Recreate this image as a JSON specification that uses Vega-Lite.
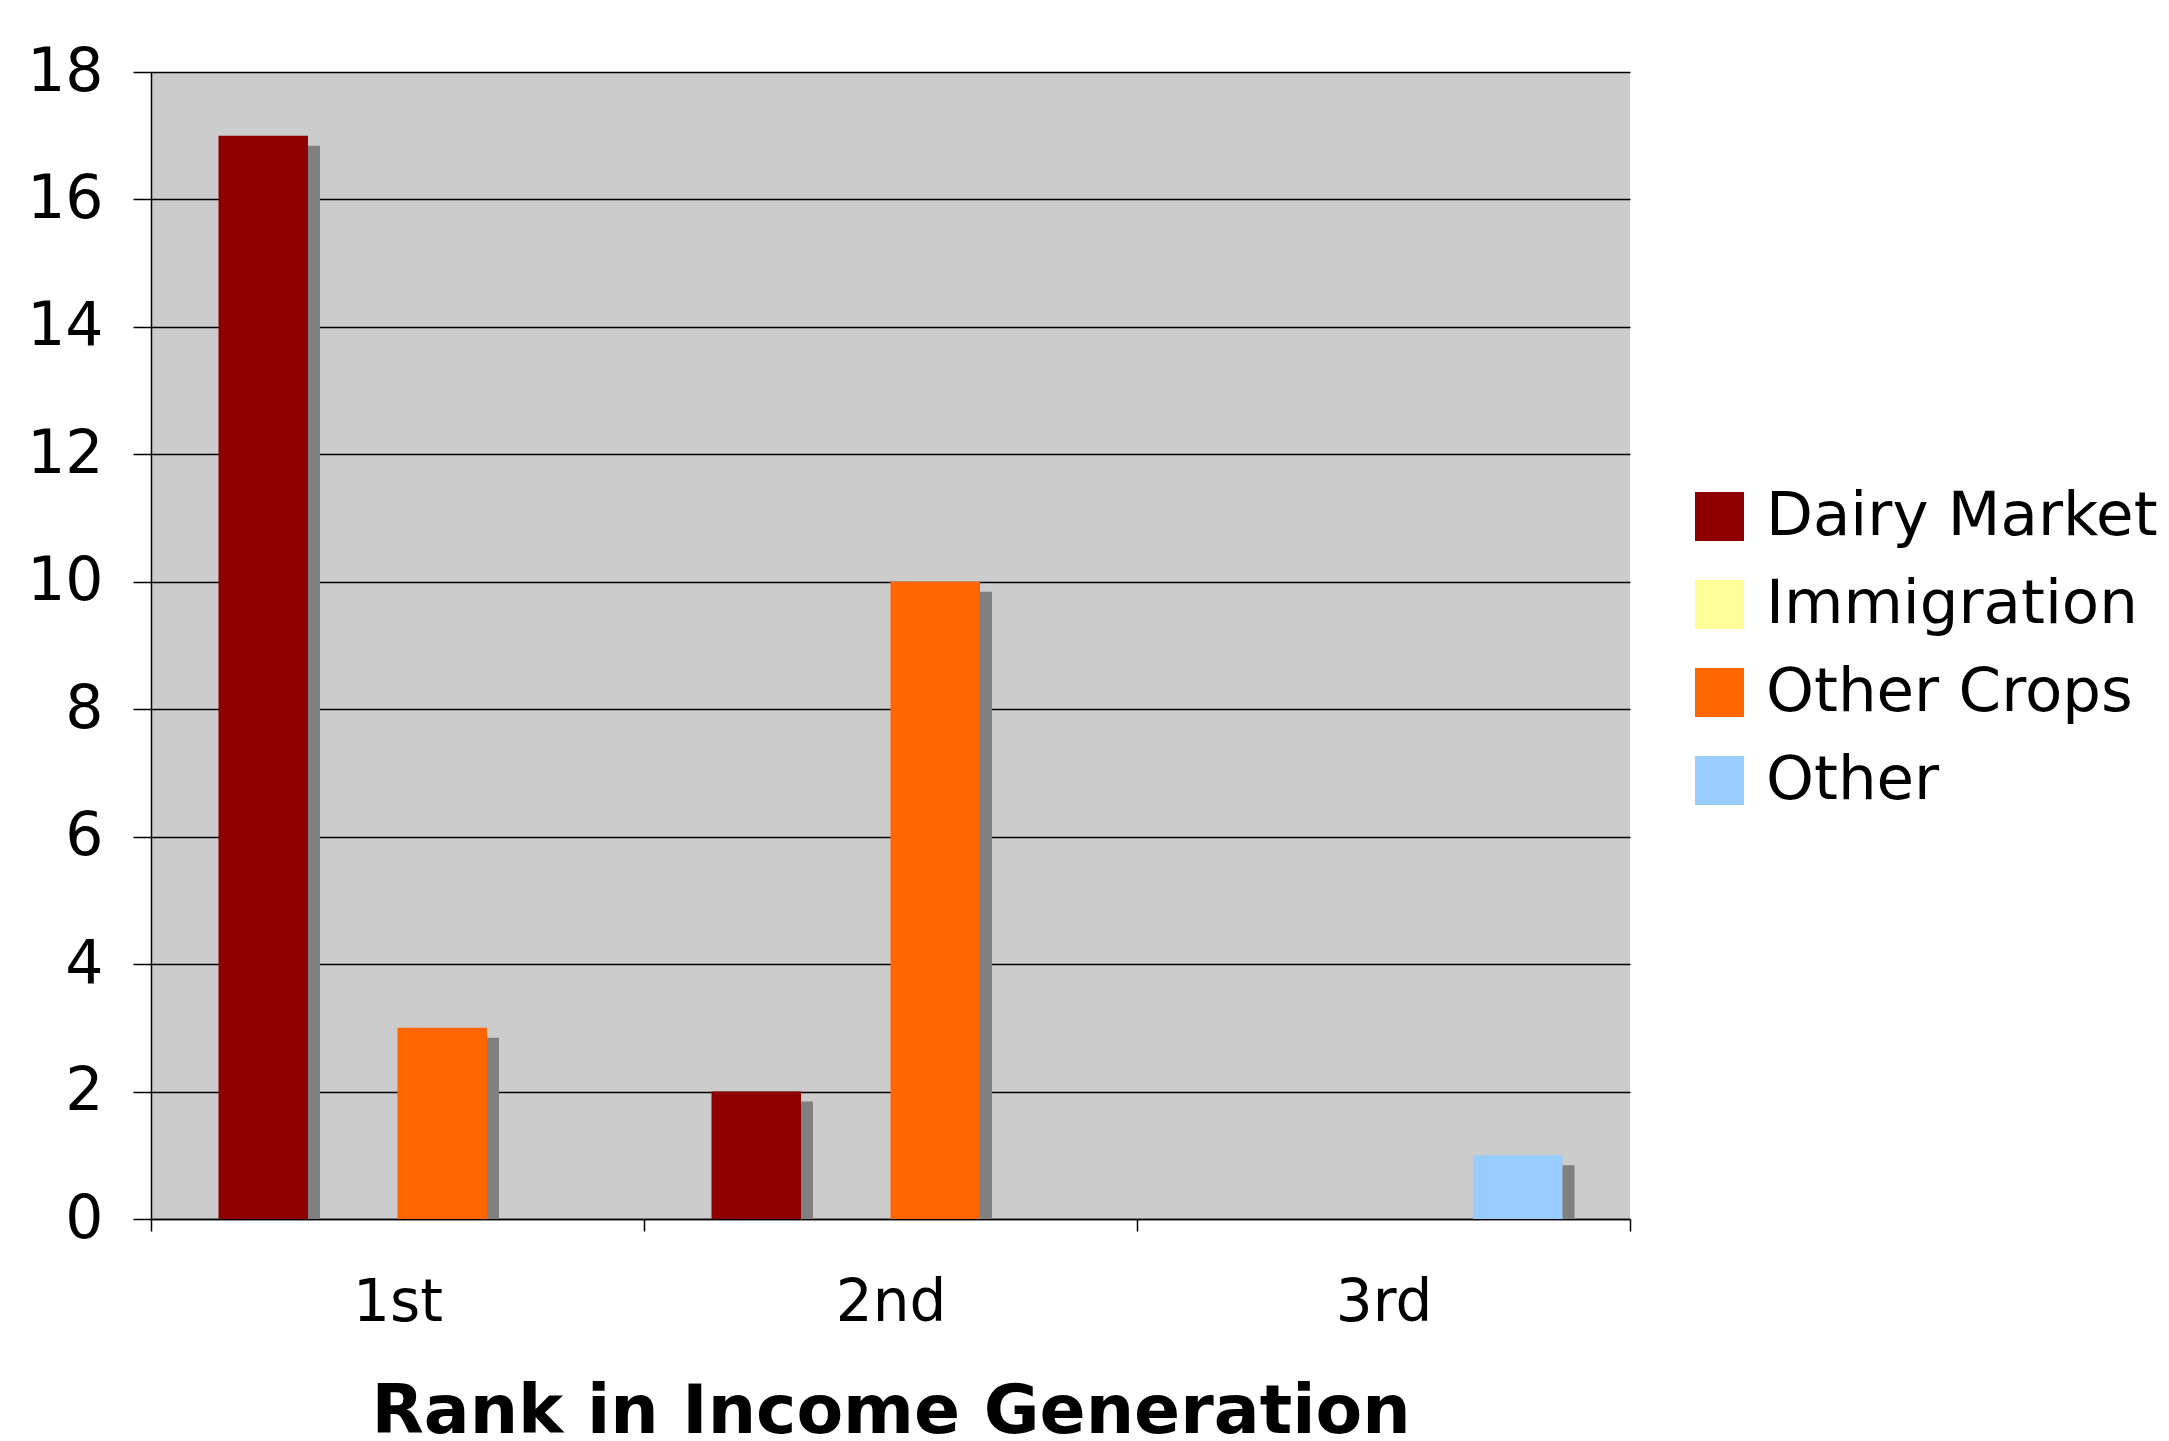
{
  "$schema": "https://vega.github.io/schema/vega-lite/v6.json",
  "autosize": {"type": "none"},
  "padding": {"left": 151, "top": 72, "right": 539, "bottom": 222},
  "width": 1479,
  "height": 1147,
  "background": "#FFFFFF",
  "config": {
    "font": "DejaVu Sans",
    "view": {"fill": "#CCCCCC", "stroke": null}
  },
  "data": {
    "values": [
      {"rank": "1st", "source": "Dairy Market", "count": 17},
      {"rank": "1st", "source": "Immigration", "count": 0},
      {"rank": "1st", "source": "Other Crops", "count": 3},
      {"rank": "1st", "source": "Other", "count": 0},
      {"rank": "2nd", "source": "Dairy Market", "count": 2},
      {"rank": "2nd", "source": "Immigration", "count": 0},
      {"rank": "2nd", "source": "Other Crops", "count": 10},
      {"rank": "2nd", "source": "Other", "count": 0},
      {"rank": "3rd", "source": "Dairy Market", "count": 0},
      {"rank": "3rd", "source": "Immigration", "count": 0},
      {"rank": "3rd", "source": "Other Crops", "count": 0},
      {"rank": "3rd", "source": "Other", "count": 1}
    ]
  },
  "encoding": {
    "x": {
      "field": "rank",
      "type": "nominal",
      "sort": ["1st", "2nd", "3rd"],
      "scale": {"paddingInner": 0, "paddingOuter": 0},
      "axis": {
        "title": "Rank in Income Generation",
        "titleFontSize": 68,
        "titleFontWeight": "bold",
        "titleColor": "#000000",
        "titleBaseline": "alphabetic",
        "titleY": 213,
        "labelAngle": 0,
        "labelFontSize": 58,
        "labelColor": "#000000",
        "labelBaseline": "alphabetic",
        "labelPadding": 89,
        "tickBand": "extent",
        "tickSize": 12,
        "tickColor": "#000000",
        "tickWidth": 1.5,
        "domainColor": "#000000",
        "domainWidth": 1.5,
        "grid": false
      }
    },
    "y": {
      "field": "count",
      "type": "quantitative",
      "scale": {"domain": [0, 18], "nice": false},
      "axis": {
        "title": null,
        "values": [0, 2, 4, 6, 8, 10, 12, 14, 16, 18],
        "labelFontSize": 60,
        "labelColor": "#000000",
        "labelPadding": 30,
        "tickSize": 18,
        "tickColor": "#000000",
        "tickWidth": 1.5,
        "domainColor": "#000000",
        "domainWidth": 1.5,
        "grid": true,
        "gridColor": "#000000",
        "gridWidth": 1.3,
        "gridOpacity": 1
      }
    }
  },
  "layer": [
    {
      "transform": [{"filter": "datum.count > 0"}],
      "mark": {"type": "bar", "color": "#808080", "yOffset": 10, "clip": true},
      "encoding": {
        "xOffset": {
          "field": "source",
          "type": "nominal",
          "sort": ["Dairy Market", "Immigration", "Other Crops", "Other"],
          "scale": {
            "domain": ["Dairy Market", "Immigration", "Other Crops", "Other"],
            "range": [12, 505],
            "paddingInner": 0,
            "paddingOuter": 0.754
          }
        }
      }
    },
    {
      "mark": {"type": "bar"},
      "encoding": {
        "xOffset": {
          "field": "source",
          "type": "nominal",
          "sort": ["Dairy Market", "Immigration", "Other Crops", "Other"],
          "scale": {
            "domain": ["Dairy Market", "Immigration", "Other Crops", "Other"],
            "range": [0, 493],
            "paddingInner": 0,
            "paddingOuter": 0.754
          }
        },
        "color": {
          "field": "source",
          "type": "nominal",
          "scale": {
            "domain": ["Dairy Market", "Immigration", "Other Crops", "Other"],
            "range": ["#8E0000", "#FFFF99", "#FF6600", "#99CCFF"]
          },
          "legend": {
            "title": null,
            "orient": "none",
            "legendX": 1538,
            "legendY": 414,
            "padding": 0,
            "symbolType": "square",
            "symbolSize": 2401,
            "symbolStrokeWidth": 0,
            "symbolOpacity": 1,
            "labelFontSize": 61,
            "labelColor": "#000000",
            "labelOffset": 16,
            "labelLimit": 800,
            "rowPadding": 26
          }
        }
      }
    }
  ],
  "resolve": {"scale": {"xOffset": "independent"}}
}
